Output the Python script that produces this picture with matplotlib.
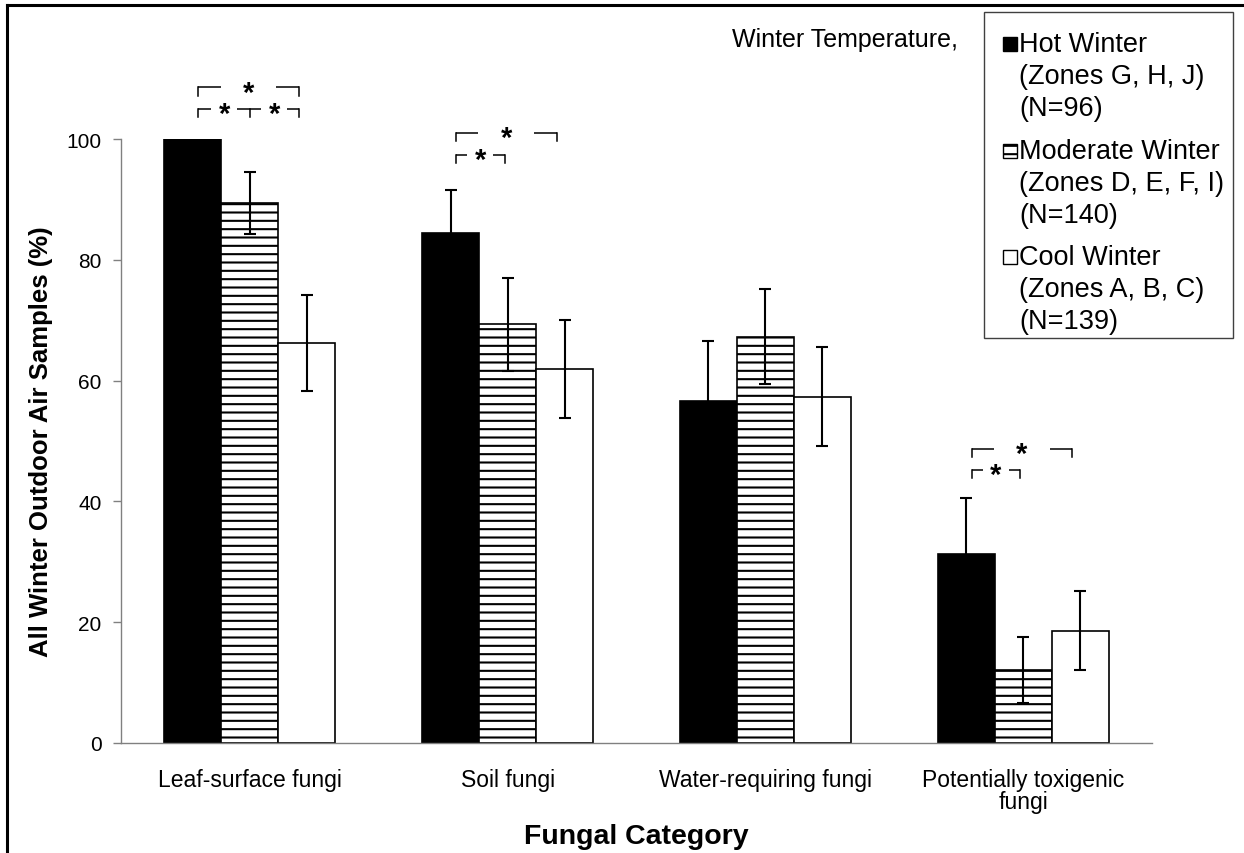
import matplotlib
matplotlib.use("Agg")
import matplotlib.pyplot as plt
from matplotlib.patches import Rectangle
from matplotlib.lines import Line2D
import numpy as np

plt.rcParams['font.family'] = ['Liberation Sans', 'DejaVu Sans']
plt.rcParams['hatch.linewidth'] = 1.5

# data
categories = ['Leaf-surface fungi', 'Soil fungi', 'Water-requiring fungi',
              'Potentially toxigenic\nfungi']
hot = [100.0, 84.4, 56.6, 31.3]
hot_err = [0.0, 7.2, 9.9, 9.2]
moderate = [89.4, 69.3, 67.3, 12.1]
moderate_err = [5.1, 7.7, 7.9, 5.4]
cool = [66.3, 61.9, 57.3, 18.6]
cool_err = [7.95, 8.1, 8.2, 6.5]

legend_labels = [['Hot Winter', '(Zones G, H, J)', '(N=96)'],
                 ['Moderate Winter', '(Zones D, E, F, I)', '(N=140)'],
                 ['Cool Winter', '(Zones A, B, C)', '(N=139)']]

# significance brackets: (category, y of bracket, kind)
brackets = [(0, 108.6, 'upper'), (0, 105.0, 'lower_both'),
            (1, 101.0, 'upper'), (1, 97.4, 'lower'),
            (3, 48.7, 'upper'), (3, 45.2, 'lower')]

W, H = 1244, 854
fig = plt.figure(figsize=(W / 100, H / 100), dpi=100)
ax = fig.add_axes([121 / W, 1 - 744 / H, (1152 - 121) / W, (744 - 140) / H])

x = np.arange(len(categories))
bw = 0.221
ekw = dict(ecolor='black', elinewidth=1.5, capsize=4.5, capthick=1.5)
ax.bar(x - bw, hot, bw, color='black', edgecolor='black', linewidth=1.2,
       yerr=hot_err, error_kw=ekw, zorder=2)
ax.bar(x, moderate, bw, color='white', edgecolor='black', hatch='--',
       linewidth=1.2, yerr=moderate_err, error_kw=ekw, zorder=2)
ax.bar(x + bw, cool, bw, color='white', edgecolor='black', linewidth=1.2,
       yerr=cool_err, error_kw=ekw, zorder=2)

ax.set_xlim(-0.5, 3.5)
ax.set_ylim(0, 100)
ax.set_yticks(range(0, 101, 20))
ax.set_xticks(x)
ax.set_xticklabels(categories, fontsize=16.5, linespacing=0.95)
ax.tick_params(axis='x', length=0, pad=18)
ax.tick_params(axis='y', length=6, width=1, color='#808080', labelsize=15, pad=8)
for s in ['top', 'right']:
    ax.spines[s].set_visible(False)
for s in ['left', 'bottom']:
    ax.spines[s].set_color('#808080')
    ax.spines[s].set_linewidth(1.0)

ax.set_ylabel('All Winter Outdoor Air Samples (%)', fontsize=18.5,
              fontweight='bold', labelpad=10)
ax.set_xlabel('Fungal Category', fontsize=20.5, fontweight='bold', labelpad=7)


def seg(x0, x1, y):
    ax.plot([x0, x1], [y, y], color='black', lw=1.1, clip_on=False,
            solid_capstyle='butt')


def star(xs, y):
    ax.text(xs, y - 0.9, '*', fontsize=21, ha='center', va='center',
            fontweight='bold', clip_on=False)


tick = 1.4
for cat, y, kind in brackets:
    c = x[cat]
    left = c - 0.2
    if kind == 'upper':
        right = c + 0.19
        mid = (left + right) / 2
        seg(left, mid - 0.108, y)
        seg(mid + 0.108, right, y)
        star(mid, y)
        ends = (left, right)
    elif kind == 'lower':
        right = c - 0.012
        mid = (left + right) / 2
        seg(left, mid - 0.05, y)
        seg(mid + 0.05, right, y)
        star(mid, y)
        ends = (left, right)
    else:
        right = c + 0.19
        for a, b in ((left, c), (c, right)):
            mid = (a + b) / 2
            seg(a, mid - 0.05, y)
            seg(mid + 0.05, b, y)
            star(mid, y)
        ends = (left, c, right)
    for e in ends:
        ax.plot([e, e], [y, y - tick], color='black', lw=1.1, clip_on=False)

# title fragment
fig.text(958 / W, 1 - 40 / H, 'Winter Temperature,', fontsize=18,
         ha='right', va='center')

# legend box drawn by hand
fig.patches.append(Rectangle((984 / W, 1 - 339 / H), (1233 - 984) / W,
                             (339 - 13) / H, transform=fig.transFigure,
                             facecolor='white', edgecolor='#404040', lw=1.0))
faces = ['black', 'white', 'white']
hatches = [None, '--', None]
group_y = [45, 152, 258]
for lines, fc, hh, gy in zip(legend_labels, faces, hatches, group_y):
    fig.patches.append(Rectangle((1003 / W, 1 - (gy + 7) / H), 14 / W, 14 / H,
                                 transform=fig.transFigure, facecolor=fc,
                                 edgecolor='black', lw=1.0, hatch=hh))
    for i, t in enumerate(lines):
        fig.text(1019 / W, 1 - (gy + i * 32) / H, t, fontsize=19.5,
                 ha='left', va='center')

# page frame lines
fig.add_artist(Line2D([7 / W, 1], [1 - 6 / H, 1 - 6 / H], color='black',
                      lw=2.2, transform=fig.transFigure))
fig.add_artist(Line2D([7 / W, 7 / W], [0, 1 - 6 / H], color='black',
                      lw=2.2, transform=fig.transFigure))

fig.savefig('out.png', dpi=100)
